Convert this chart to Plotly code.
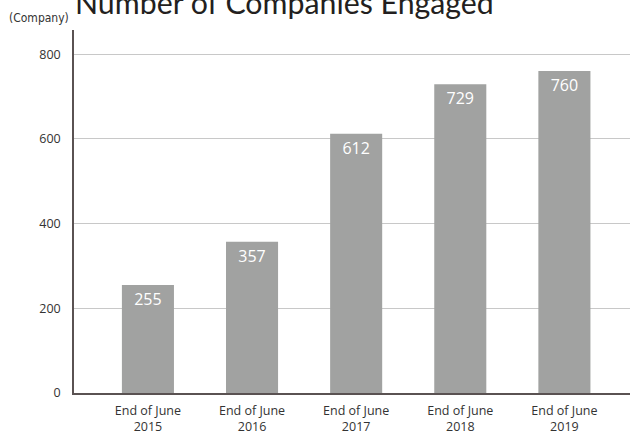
import plotly.graph_objects as go

categories = ["End of June<br>2015", "End of June<br>2016", "End of June<br>2017",
              "End of June<br>2018", "End of June<br>2019"]
values = [255, 357, 612, 729, 760]
y_ticks = [0, 200, 400, 600, 800]

fig = go.Figure()
fig.add_trace(go.Bar(
    x=list(range(len(categories))), y=values,
    marker=dict(color="#a1a2a1", line=dict(width=0)),
    width=0.5,
    text=[str(v) for v in values],
    textposition="inside", insidetextanchor="end",
    textfont=dict(color="white", size=16, family="Open Sans"),
    cliponaxis=False,
))

fig.update_layout(
    width=633, height=438,
    margin=dict(l=74, r=3, t=30, b=45),
    plot_bgcolor="white", paper_bgcolor="white",
    showlegend=False,
    font=dict(family="Open Sans", color="#333333", size=12),
    xaxis=dict(
        range=[-0.71, 4.63],
        tickmode="array", tickvals=list(range(len(categories))), ticktext=categories,
        showgrid=False, showline=True, linecolor="#5a5252", linewidth=1.5,
        ticks="", zeroline=False, ticklabelstandoff=5,
        tickfont=dict(size=12.5, color="#333333"),
    ),
    yaxis=dict(
        range=[0, 857],
        tickmode="array", tickvals=y_ticks,
        showgrid=True, gridcolor="#c8c8c8", gridwidth=1.2,
        showline=True, linecolor="#5a5252", linewidth=1.5,
        ticks="", zeroline=False, ticklabelstandoff=9,
        tickfont=dict(size=12.5, color="#333333"),
    ),
    annotations=[
        dict(text="Number of Companies Engaged", xref="paper", yref="paper",
             x=-0.002, y=1.0 + 28/363, xanchor="left", yanchor="middle",
             showarrow=False, font=dict(size=30.3, color="#231f20", family="Lato")),
        dict(text="(Company)", xref="paper", yref="paper",
             x=-67/556, y=1.0 + 12/363, xanchor="left", yanchor="middle",
             showarrow=False, font=dict(size=12, color="#333333", family="DejaVu Sans Condensed, sans-serif")),
    ],
)

fig.write_html("out.html")
